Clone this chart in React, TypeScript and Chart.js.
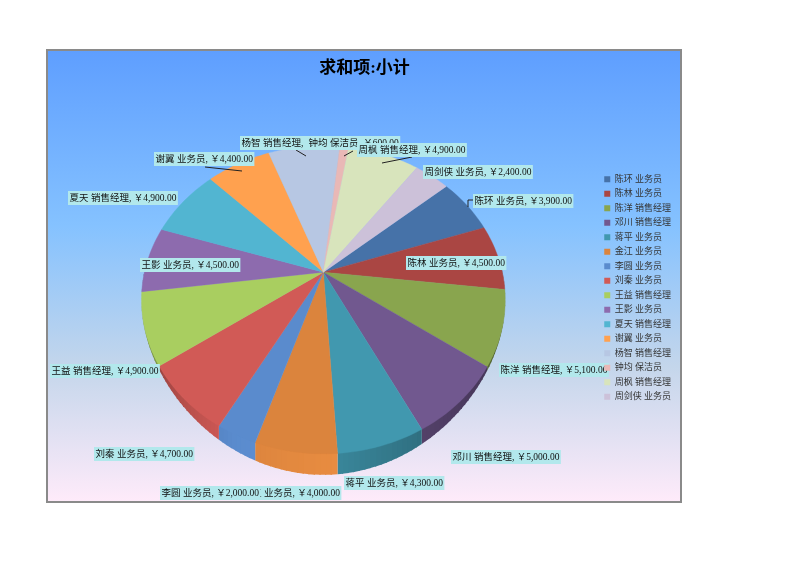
import React, { useEffect, useRef } from "react";
import { Chart, registerables, ArcElement } from "chart.js";

Chart.register(...registerables);

const categories = [
  "陈环 业务员", "陈林 业务员", "陈洋 销售经理", "邓川 销售经理",
  "蒋平 业务员", "金江 业务员", "李圆 业务员", "刘秦 业务员",
  "王益 销售经理", "王影 业务员", "夏天 销售经理", "谢翼 业务员",
  "杨智 销售经理", "钟均 保洁员", "周枫 销售经理", "周剑侠 业务员",
];
const totals = [3900, 4500, 5100, 5000, 4300, 4000, 2000, 4700, 4900, 4500, 4900, 4400, 4900, 600, 4900, 2400];
const sliceColors = [
  "#4672A8", "#AA4643", "#89A54E", "#71588F", "#4198AF", "#DB843D", "#5A8BCD", "#D15A56",
  "#A9CE60", "#8D6BAE", "#52B5D1", "#FFA14F", "#B7C7E3", "#E9B8B6", "#D8E4BC", "#CCC1D9",
];
const seriesName = "求和项:小计";

// Placement of each data label on the panel: [left edge, vertical centre]
const labelPlaces = [
  [473, 201], [406, 263], [499, 370], [451, 457], [344, 483], [241, 493], [160, 493], [94, 454],
  [50, 371], [140, 265], [68, 198], [154, 159], [240, 143], [307, 143], [357, 150], [423, 172],
];
// Leader lines drawn beside some labels
const leaders = [
  [[205, 167], [242, 171]],
  [[296, 150], [306, 156]],
  [[344, 156], [353, 151]],
  [[382, 163], [412, 157]],
  [[468, 207], [468, 200], [473, 200]],
];

const PANEL_X = 46;
const PANEL_Y = 49;
const PANEL_W = 636;
const PANEL_H = 454;
const LEGEND_SHIFT = 35;
const FONT = '"Liberation Serif", "Noto Sans CJK SC", serif';

// Perspective of the tilted disc
const TILT = 0.18;
const SCALE_X = 0.968;
const SCALE_Y = 0.806;
const WALL = 21;

function project(cx: number, cy: number, r: number, a: number) {
  const dx = Math.cos(a);
  const dy = Math.sin(a);
  const w = 1 - TILT * dy;
  return { x: cx + (SCALE_X * r * dx) / w, y: cy + (SCALE_Y * r * dy) / w, near: dy };
}

function shadeAt(deg: number) {
  const stops = [[90, 0.55], [120, 0.6], [150, 0.72], [176.5, 0.88], [176.8, 1.06], [205, 1.0], [225, 0.85], [250, 0.6], [270, 0.55]];
  for (let i = 1; i < stops.length; i++) {
    if (deg <= stops[i][0]) {
      const t = (deg - stops[i - 1][0]) / (stops[i][0] - stops[i - 1][0]);
      return stops[i - 1][1] + t * (stops[i][1] - stops[i - 1][1]);
    }
  }
  return 0.55;
}

function shadeColor(hex: string, f: number) {
  const n = parseInt(hex.slice(1), 16);
  const c = [(n >> 16) & 255, (n >> 8) & 255, n & 255].map((v) => Math.min(255, Math.round(v * f)));
  return `rgb(${c[0]},${c[1]},${c[2]})`;
}

(ArcElement.prototype as any).draw = function (ctx: CanvasRenderingContext2D) {
  const { x, y, startAngle, endAngle, outerRadius } = this.getProps(["x", "y", "startAngle", "endAngle", "outerRadius"]);
  const color = this.options.backgroundColor as string;
  const span = endAngle - startAngle;
  if (!(span > 0) || !(outerRadius > 0)) return;
  const steps = Math.max(2, Math.ceil(span / (Math.PI / 120)));
  ctx.save();
  for (let i = 0; i < steps; i++) {
    const a0 = startAngle + (span * i) / steps;
    const a1 = startAngle + (span * (i + 1)) / steps;
    const p0 = project(x, y, outerRadius, a0);
    const p1 = project(x, y, outerRadius, i === steps - 1 ? a1 : a1 + 0.006);
    if (p0.near <= 0 && p1.near <= 0) continue;
    const d0 = WALL * Math.pow(Math.max(0, p0.near), 3);
    const d1 = WALL * Math.pow(Math.max(0, p1.near), 3);
    const deg = ((((a0 + a1) / 2 + Math.PI / 2) * 180) / Math.PI + 360) % 360;
    ctx.fillStyle = shadeColor(color, shadeAt(deg));
    ctx.beginPath();
    ctx.moveTo(p0.x, p0.y - 1);
    ctx.lineTo(p1.x, p1.y - 1);
    ctx.lineTo(p1.x, p1.y + d1);
    ctx.lineTo(p0.x, p0.y + d0);
    ctx.closePath();
    ctx.fill();
  }
  ctx.beginPath();
  ctx.moveTo(x, y);
  for (let i = 0; i <= steps; i++) {
    const p = project(x, y, outerRadius, startAngle + (span * i) / steps);
    ctx.lineTo(p.x, p.y);
  }
  ctx.closePath();
  ctx.fillStyle = color;
  ctx.strokeStyle = color;
  ctx.lineWidth = 0.4;
  ctx.fill();
  ctx.stroke();
  ctx.restore();
};

function money(v: number) {
  return "￥" + v.toLocaleString("en-US") + ".00";
}

const labelPlugin = {
  id: "sliceLabels",
  beforeLayout(chart: any) {
    // The legend sits above the data labels
    const legend = chart.legend;
    legend._layers = () => [{ z: 1, draw: (area: any) => legend.draw(area) }];
  },
  afterLayout(chart: any) {
    chart.legend.top += LEGEND_SHIFT;
    chart.legend.bottom += LEGEND_SHIFT;
  },
  afterDatasetsDraw(chart: Chart) {
    const { ctx } = chart;
    ctx.save();
    ctx.strokeStyle = "#222";
    ctx.lineWidth = 1;
    leaders.forEach((line) => {
      ctx.beginPath();
      line.forEach(([px, py], i) => {
        const lx = px - PANEL_X;
        const ly = py - PANEL_Y;
        if (i === 0) ctx.moveTo(lx, ly);
        else ctx.lineTo(lx, ly);
      });
      ctx.stroke();
    });
    ctx.font = `9.5px ${FONT}`;
    ctx.textBaseline = "middle";
    ctx.textAlign = "left";
    categories.forEach((name, i) => {
      const text = `${name}, ${money(totals[i])}`;
      const lx = labelPlaces[i][0] - PANEL_X;
      const ly = labelPlaces[i][1] - PANEL_Y;
      const w = ctx.measureText(text).width;
      ctx.fillStyle = "rgb(178,232,236)";
      ctx.fillRect(lx, ly - 7, w + 3, 14);
      ctx.fillStyle = "#111";
      ctx.fillText(text, lx + 1.5, ly + 0.5);
    });
    ctx.restore();
  },
};

export default function App() {
  const ref = useRef<HTMLCanvasElement | null>(null);
  useEffect(() => {
    if (!ref.current) return;
    const chart = new Chart(ref.current, {
      type: "pie",
      data: {
        labels: categories,
        datasets: [{ label: seriesName, data: totals, backgroundColor: sliceColors, borderWidth: 0 }],
      },
      options: {
        responsive: false,
        animation: false,
        rotation: 50,
        layout: { padding: { left: 2, right: 1, top: 0, bottom: 46 } },
        plugins: {
          title: {
            display: true,
            text: seriesName,
            color: "#000",
            font: { family: FONT, size: 17, weight: "bold" },
            padding: { top: 9, bottom: 9 },
          },
          legend: {
            display: true,
            position: "right",
            labels: {
              boxWidth: 6,
              boxHeight: 6,
              padding: 5.5,
              color: "#333",
              font: { family: FONT, size: 9 },
            },
          },
          tooltip: { enabled: false },
        },
      },
      plugins: [labelPlugin],
    } as any);
    return () => chart.destroy();
  }, []);
  return (
    <div
      style={{
        position: "absolute",
        left: PANEL_X,
        top: PANEL_Y,
        width: PANEL_W,
        height: PANEL_H,
        background: "linear-gradient(180deg,#5E9EFF 0%,#85C2FF 39%,#C4D6EB 70%,#FFEBFA 100%)",
        boxShadow: "inset 0 0 0 2px #8a8a8a",
      }}
    >
      <canvas ref={ref} width={PANEL_W} height={PANEL_H} style={{ display: "block" }} />
    </div>
  );
}
